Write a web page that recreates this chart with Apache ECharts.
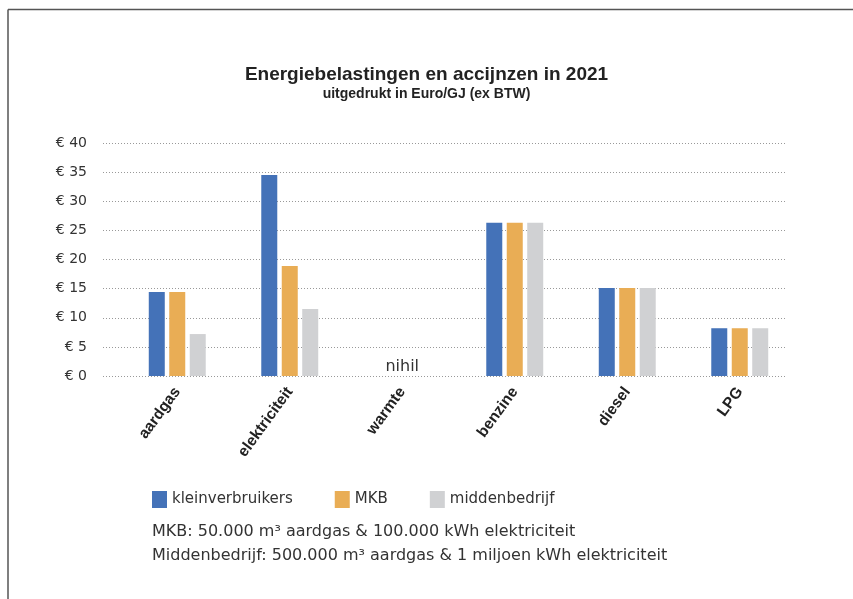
<!DOCTYPE html>
<html>
<head>
<meta charset="utf-8">
<script src="https://cdn.jsdelivr.net/npm/echarts@6/dist/echarts.min.js"></script>
<style>
  html, body { margin: 0; padding: 0; background: #fff; }
  #chart { width: 853px; height: 599px; }
</style>
</head>
<body>
<div id="chart"></div>
<script>
// categorieen en waarden (Euro/GJ)
var categories = ['aardgas', 'elektriciteit', 'warmte', 'benzine', 'diesel', 'LPG'];
var kleinverbruikers = [14.4, 34.5, 0, 26.3, 15.1, 8.2];
var mkb = [14.4, 18.9, 0, 26.3, 15.1, 8.2];
var middenbedrijf = [7.2, 11.5, 0, 26.3, 15.1, 8.2];
var yTicks = [0, 5, 10, 15, 20, 25, 30, 35, 40];

var font = '"Liberation Sans", Arial, sans-serif';
var wide = '"DejaVu Sans", sans-serif';
var chart = echarts.init(document.getElementById('chart'));

function bar(name, data, color, nihil) {
  return {
    name: name,
    type: 'bar',
    xAxisIndex: 1,
    yAxisIndex: 1,
    data: data,
    barWidth: 16,
    barGap: '28%',
    itemStyle: { color: color },
    label: {
      show: !!nihil,
      position: 'top',
      distance: 1,
      color: '#333',
      fontFamily: wide,
      fontSize: 16,
      formatter: function (p) { return p.value === 0 ? 'nihil' : ''; }
    }
  };
}

var option = {
  backgroundColor: '#fff',
  animation: false,
  title: {
    text: 'Energiebelastingen en accijnzen in 2021',
    subtext: 'uitgedrukt in Euro/GJ (ex BTW)',
    left: 'center',
    top: 60,
    itemGap: 3,
    textStyle: { fontFamily: font, fontSize: 19, fontWeight: 'bold', color: '#222' },
    subtextStyle: { fontFamily: font, fontSize: 14, fontWeight: 'bold', color: '#222' }
  },
  legend: {
    left: 147,
    top: 486,
    icon: 'rect',
    itemWidth: 15,
    itemHeight: 17,
    itemGap: 42,
    textStyle: { fontFamily: wide, fontSize: 15, color: '#333' },
    data: ['kleinverbruikers', 'MKB', 'middenbedrijf']
  },
  grid: [
    { left: 103, right: 67, top: 143, bottom: 223 },
    { left: 121, right: 57, top: 143, bottom: 223 }
  ],
  xAxis: [
    { type: 'category', gridIndex: 0, data: categories, show: false },
    {
      type: 'category',
      gridIndex: 1,
      data: categories,
      axisLine: { show: false },
      axisTick: { show: false },
      axisLabel: {
        rotate: 54,
        margin: 13,
        fontFamily: font,
        fontSize: 15.5,
        fontWeight: 'bold',
        color: '#222'
      }
    }
  ],
  yAxis: [
    {
      type: 'value',
      gridIndex: 0,
      min: yTicks[0],
      max: yTicks[yTicks.length - 1],
      interval: 5,
      axisLine: { show: false },
      axisTick: { show: false },
      axisLabel: {
        margin: 16,
        fontFamily: wide,
        fontSize: 14,
        color: '#333',
        formatter: function (v) { return '€ ' + v; }
      },
      splitLine: { lineStyle: { type: [1, 2], color: '#999', width: 1 } }
    },
    {
      type: 'value',
      gridIndex: 1,
      min: yTicks[0],
      max: yTicks[yTicks.length - 1],
      interval: 5,
      show: false,
      splitLine: { show: false }
    }
  ],
  graphic: [
    // kader
    { type: 'line', shape: { x1: 8, y1: 9.5, x2: 853, y2: 9.5 }, style: { stroke: '#555', lineWidth: 1.5 } },
    { type: 'line', shape: { x1: 8, y1: 9.5, x2: 8, y2: 599 }, style: { stroke: '#555', lineWidth: 1.5 } },
    {
      type: 'text', left: 152, top: 524,
      style: { text: 'MKB: 50.000 m³ aardgas & 100.000 kWh elektriciteit', fontFamily: wide, fontSize: 16, fill: '#333' }
    },
    {
      type: 'text', left: 152, top: 548,
      style: { text: 'Middenbedrijf: 500.000 m³ aardgas & 1 miljoen kWh elektriciteit', fontFamily: wide, fontSize: 16, fill: '#333' }
    }
  ],
  series: [
    bar('kleinverbruikers', kleinverbruikers, '#4472b8', false),
    bar('MKB', mkb, '#e9ad55', true),
    bar('middenbedrijf', middenbedrijf, '#d0d1d3', false)
  ]
};

chart.setOption(option);
</script>
</body>
</html>
